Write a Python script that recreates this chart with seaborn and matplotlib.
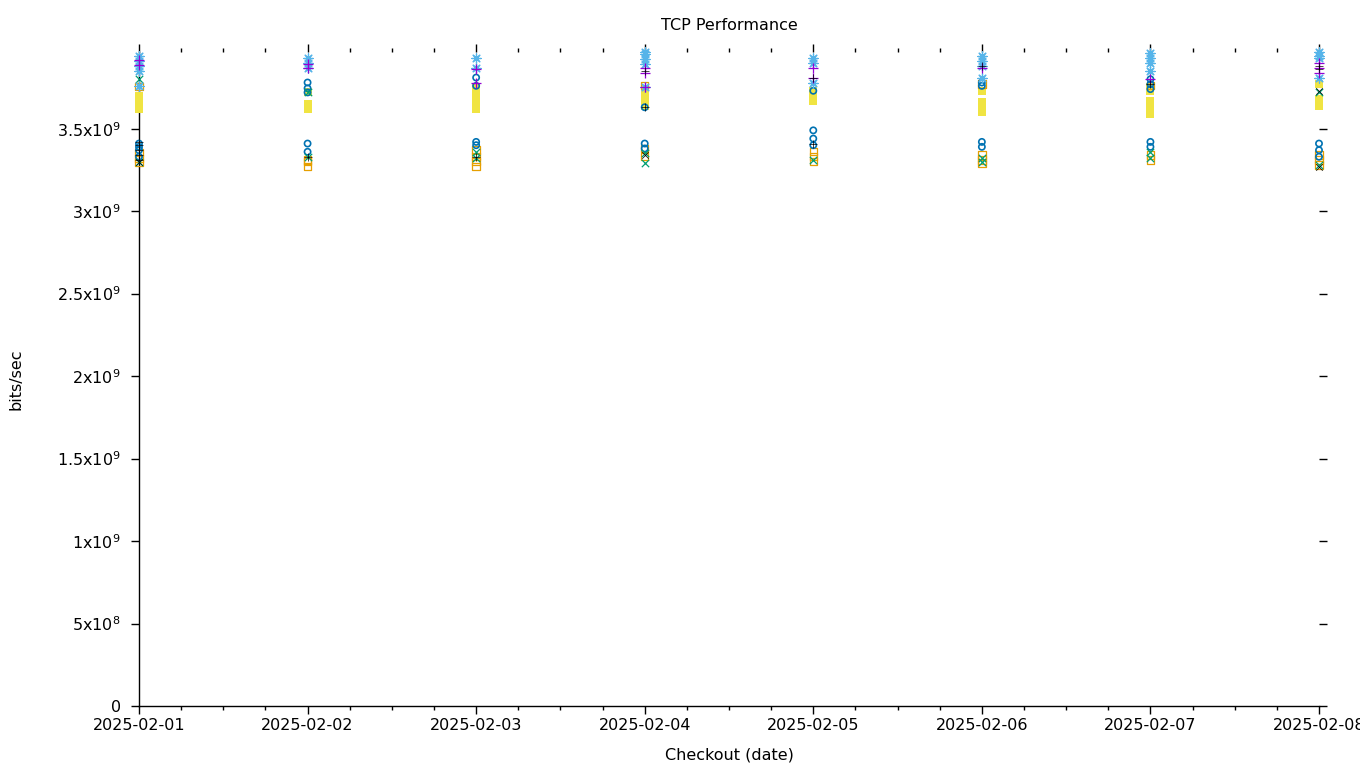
import numpy as np
import pandas as pd
import matplotlib
matplotlib.use("Agg")
import matplotlib.pyplot as plt
import matplotlib.dates as mdates
from matplotlib.ticker import FixedLocator
import seaborn as sns

dates = pd.to_datetime(["2025-02-01", "2025-02-02", "2025-02-03", "2025-02-04",
                        "2025-02-05", "2025-02-06", "2025-02-07", "2025-02-08"])

# values in units of 1e9 bits/sec, one list per date
purple_plus = [[3.915, 3.885], [3.87, 3.89], [3.78, 3.86], [3.87, 3.84, 3.75],
               [3.87, 3.81], [3.87], [3.80], [3.90, 3.87, 3.84]]
green_x = [[3.80, 3.30], [3.72, 3.33], [3.36, 3.32], [3.29, 3.35],
           [3.31], [3.32, 3.30], [3.36, 3.32], [3.72, 3.28]]
lightblue_star = [[3.94, 3.91, 3.88, 3.85, 3.757], [3.93, 3.90, 3.87], [3.93, 3.87],
                  [3.965, 3.95, 3.92, 3.89, 3.75], [3.93, 3.90, 3.78],
                  [3.94, 3.91, 3.88, 3.81], [3.96, 3.93, 3.90, 3.85], [3.965, 3.94, 3.93, 3.81]]
orange_square = [[3.757, 3.357, 3.32, 3.297], [3.31, 3.30, 3.27], [3.37, 3.33, 3.30, 3.27],
                 [3.76, 3.38, 3.33], [3.36, 3.33, 3.30], [3.77, 3.34, 3.31, 3.29],
                 [3.76, 3.34, 3.31], [3.34, 3.31, 3.28]]
yellow_fill = [[3.70, 3.68, 3.66, 3.64, 3.62], [3.72, 3.65, 3.63, 3.62],
               [3.745, 3.72, 3.70, 3.68, 3.66, 3.62], [3.74, 3.72, 3.70, 3.68, 3.66, 3.64],
               [3.73, 3.71, 3.69, 3.67], [3.73, 3.66, 3.64, 3.60],
               [3.75, 3.73, 3.67, 3.65, 3.61, 3.59], [3.77, 3.68, 3.66, 3.64]]
blue_circle = [[3.41, 3.39, 3.37, 3.33], [3.78, 3.745, 3.72, 3.41, 3.36], [3.81, 3.76, 3.42, 3.40],
               [3.63, 3.41, 3.38], [3.73, 3.49, 3.44, 3.40], [3.78, 3.76, 3.42, 3.39],
               [3.80, 3.77, 3.74, 3.42, 3.39], [3.41, 3.37, 3.33]]
black_plus = [[3.42, 3.40, 3.37, 3.34, 3.31], [3.33], [3.33], [3.85, 3.63],
              [3.81, 3.41], [3.88], [3.77], [3.88, 3.86]]
black_x = [[3.30], [], [], [3.34], [], [], [], [3.73, 3.27]]

ytick_vals = [0, 5e8, 1e9, 1.5e9, 2e9, 2.5e9, 3e9, 3.5e9]
ytick_labels = ["0", r"$\mathregular{5x10^{8}}$", r"$\mathregular{1x10^{9}}$",
                r"$\mathregular{1.5x10^{9}}$", r"$\mathregular{2x10^{9}}$",
                r"$\mathregular{2.5x10^{9}}$", r"$\mathregular{3x10^{9}}$",
                r"$\mathregular{3.5x10^{9}}$"]

def to_df(series):
    rows = []
    for d, vals in zip(dates, series):
        for v in vals:
            rows.append((d, v * 1e9))
    return pd.DataFrame(rows, columns=["date", "value"])

sns.set_style("ticks")
plt.rcParams["font.family"] = ["DejaVu Sans"]
plt.rcParams["font.size"] = 11.5
for k in ["text.color", "axes.labelcolor", "xtick.color", "ytick.color", "axes.edgecolor"]:
    plt.rcParams[k] = "black"

fig = plt.figure(figsize=(13.6, 7.68), dpi=100)
ax = fig.add_axes([139 / 1360, 1 - 706 / 768, (1319 - 139) / 1360, (706 - 52) / 768])

lw = 0.9
styles = [
    (yellow_fill, dict(marker="s", color="#f0e442", s=36, linewidth=0)),
    (orange_square, dict(marker="s", facecolors="none", edgecolors="#e69f00", s=28, linewidth=lw)),
    (blue_circle, dict(marker="o", facecolors="none", edgecolors="#0072b2", s=20, linewidth=1.2)),
    (green_x, dict(marker="x", color="#009e73", s=28, linewidth=lw)),
    (lightblue_star, dict(marker=(8, 2, 0), color="#56b4e9", s=45, linewidth=lw)),
    (purple_plus, dict(marker="+", color="#9400d3", s=45, linewidth=lw)),
    (black_plus, dict(marker="+", color="black", s=30, linewidth=0.5)),
    (black_x, dict(marker="x", color="black", s=22, linewidth=0.5)),
]
allvals = []
for series, kw in styles:
    df = to_df(series)
    allvals.extend(df["value"].tolist())
    sns.scatterplot(data=df, x="date", y="value", ax=ax, clip_on=False, zorder=3, **kw)

ax.set_xlim(dates[0], dates[-1])
ax.set_ylim(0, max(allvals))

ax.xaxis.set_major_locator(mdates.DayLocator())
ax.xaxis.set_major_formatter(mdates.DateFormatter("%Y-%m-%d"))
ax.xaxis.set_minor_locator(mdates.HourLocator(byhour=[6, 12, 18]))
ax.yaxis.set_major_locator(FixedLocator(ytick_vals))
ax.set_yticklabels(ytick_labels)

ax.spines["top"].set_visible(False)
ax.spines["right"].set_visible(False)
for s in ["left", "bottom"]:
    ax.spines[s].set_linewidth(1.0)
    ax.spines[s].set_color("black")

ax.tick_params(axis="both", which="major", direction="out", length=6, width=1,
               color="black", labelcolor="black", labelsize=11.5, top=True, right=True)
ax.tick_params(axis="x", which="minor", direction="out", length=3, width=1,
               color="black", top=True)
ax.tick_params(axis="y", which="major", pad=7)
ax.tick_params(axis="x", which="major", pad=3)

ax.set_title("TCP Performance", fontsize=11.5, pad=16, color="black")
ax.set_xlabel("Checkout (date)", fontsize=11.5, labelpad=10, color="black")
ax.set_ylabel("bits/sec", fontsize=11.5, labelpad=24, color="black")
ax.grid(False)
leg = ax.get_legend()
if leg is not None:
    leg.remove()

fig.savefig("out.png", dpi=100)
